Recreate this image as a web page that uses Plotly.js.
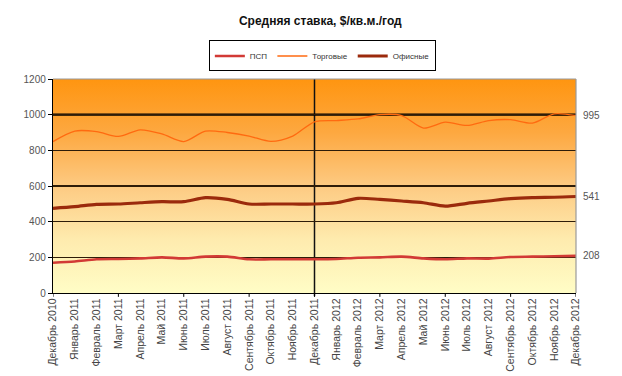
<!DOCTYPE html>
<html>
<head>
<meta charset="utf-8">
<script src="https://cdn.plot.ly/plotly-3.0.1.min.js"></script>
<style>
  html, body { margin: 0; padding: 0; background: #ffffff; }
  #chart { width: 622px; height: 376px; }
</style>
</head>
<body>
<div id="chart"></div>
<script>
// Months, Dec 2010 .. Dec 2012
const months = [
  'Декабрь 2010', 'Январь 2011', 'Февраль 2011', 'Март 2011', 'Апрель 2011',
  'Май 2011', 'Июнь 2011', 'Июль 2011', 'Август 2011', 'Сентябрь 2011',
  'Октябрь 2011', 'Ноябрь 2011', 'Декабрь 2011', 'Январь 2012', 'Февраль 2012',
  'Март 2012', 'Апрель 2012', 'Май 2012', 'Июнь 2012', 'Июль 2012',
  'Август 2012', 'Сентябрь 2012', 'Октябрь 2012', 'Ноябрь 2012', 'Декабрь 2012'
];

// Average rent, $/sq.m/year
const pspValues = [170, 177, 189, 191, 194, 200, 194, 204, 204, 189, 189, 189, 189,
                   191, 198, 200, 204, 194, 189, 194, 193, 202, 204, 206, 208];
const retailValues = [849, 908, 905, 878, 915, 892, 849, 908, 900, 880, 850, 880, 960,
                      967, 976, 1000, 995, 925, 958, 940, 967, 972, 953, 1005, 995];
const officeValues = [475, 484, 497, 499, 506, 512, 512, 535, 525, 499, 499, 499, 499,
                      506, 531, 525, 516, 506, 487, 503, 516, 529, 535, 537, 541];

const seriesNames = ['ПСП', 'Торговые', 'Офисные'];
const yTicks = [0, 200, 400, 600, 800, 1000, 1200];
const dividerMonth = 'Декабрь 2011';

const font = 'Liberation Sans, Arial, sans-serif';

const traces = [
  { name: seriesNames[0], x: months, y: pspValues, type: 'scatter', mode: 'lines',
    line: { color: '#D23A35', width: 2.6, shape: 'spline', smoothing: 0.8 } },
  { name: seriesNames[1], x: months, y: retailValues, type: 'scatter', mode: 'lines',
    line: { color: '#FF6A10', width: 1.3, shape: 'spline', smoothing: 0.8 } },
  { name: seriesNames[2], x: months, y: officeValues, type: 'scatter', mode: 'lines',
    line: { color: '#9B2A0C', width: 3.2, shape: 'spline', smoothing: 0.8 } }
];

// Vertical orange-to-cream background for the plotting area
const bgSvg =
  '<svg xmlns="http://www.w3.org/2000/svg" width="10" height="100" preserveAspectRatio="none">' +
  '<defs><linearGradient id="g" x1="0" y1="0" x2="0" y2="1">' +
  '<stop offset="0" stop-color="#FF9510"/>' +
  '<stop offset="0.25" stop-color="#FDA840"/>' +
  '<stop offset="0.5" stop-color="#FDCA82"/>' +
  '<stop offset="0.75" stop-color="#FEEBAE"/>' +
  '<stop offset="1" stop-color="#FFFDC6"/>' +
  '</linearGradient></defs>' +
  '<rect width="10" height="100" fill="url(#g)"/></svg>';
const bgUri = 'data:image/svg+xml;charset=utf-8,' + encodeURIComponent(bgSvg);

const shapes = [];
// tick marks every third month
months.forEach((m, i) => {
  if (i % 3 === 0) {
    shapes.push({ type: 'line', xref: 'x', yref: 'paper', x0: m, x1: m, y0: 0, y1: -0.018,
                  line: { color: '#000', width: 1 } });
  }
});
// year divider
shapes.push({ type: 'line', xref: 'x', yref: 'paper', x0: dividerMonth, x1: dividerMonth,
              y0: -0.015, y1: 1, line: { color: '#111', width: 1.5 }, layer: 'between' });
// emphasised 1000 line
shapes.push({ type: 'line', xref: 'paper', yref: 'y', x0: 0, x1: 1, y0: 1000, y1: 1000,
              line: { color: '#000', width: 2.2 }, layer: 'between' });
// grey frame on top and right
shapes.push({ type: 'line', xref: 'paper', yref: 'paper', x0: 0, x1: 1, y0: 1, y1: 1,
              line: { color: '#9a9a9a', width: 1.2 } });
shapes.push({ type: 'line', xref: 'paper', yref: 'paper', x0: 1, x1: 1, y0: 0, y1: 1,
              line: { color: '#9a9a9a', width: 1.2 } });

// end-value labels at the right edge
const lastIdx = months.length - 1;
const annotations = [pspValues, retailValues, officeValues].map(vals => ({
  xref: 'paper', yref: 'y', x: 1, y: vals[lastIdx], xanchor: 'left', xshift: 5,
  text: String(vals[lastIdx]), showarrow: false,
  font: { family: font, size: 10, color: '#555' }
}));

const layout = {
  width: 622, height: 376,
  margin: { l: 53, r: 46, t: 79, b: 83 },
  paper_bgcolor: '#ffffff',
  plot_bgcolor: 'rgba(0,0,0,0)',
  title: { text: '<b>Средняя ставка, $/кв.м./год</b>', x: 0.515, xanchor: 'center',
           y: 0.945, yanchor: 'middle',
           font: { family: font, size: 12, color: '#111' } },
  showlegend: true,
  legend: { orientation: 'h', x: 0.515, xanchor: 'center', y: 1.18, yanchor: 'top',
            bgcolor: '#ffffff', bordercolor: '#000', borderwidth: 1,
            font: { family: font, size: 8, color: '#333' },
            itemwidth: 30, tracegroupgap: 0 },
  xaxis: {
    type: 'category', range: [0, lastIdx], fixedrange: true,
    showgrid: false, zeroline: false,
    showline: true, linecolor: '#000', linewidth: 1.2,
    ticks: '', tickangle: -90,
    tickfont: { family: font, size: 10.5, color: '#444' }
  },
  yaxis: {
    range: [0, 1200], tickvals: yTicks, fixedrange: true,
    showgrid: true, gridcolor: '#2e1c08', gridwidth: 1.3,
    zeroline: false,
    showline: true, linecolor: '#000', linewidth: 1.2,
    ticks: 'outside', ticklen: 4, tickcolor: '#000',
    tickfont: { family: font, size: 10, color: '#555' }
  },
  images: [{ source: bgUri, xref: 'paper', yref: 'paper', x: 0, y: 1, sizex: 1, sizey: 1,
             xanchor: 'left', yanchor: 'top', sizing: 'stretch', layer: 'below' }],
  shapes: shapes,
  annotations: annotations
};

Plotly.newPlot('chart', traces, layout, { displayModeBar: false, staticPlot: true });
</script>
</body>
</html>
